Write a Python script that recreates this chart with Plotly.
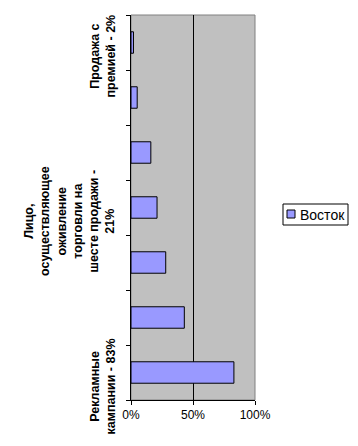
import plotly.graph_objects as go

categories = [
    "Рекламные кампании - 83%",
    "Категория 2",
    "Категория 3",
    "Лицо, осуществляющее оживление торговли на шесте продажи - 21%",
    "Категория 5",
    "Категория 6",
    "Продажа с премией - 2%",
]
label_lines = {
    "Рекламные кампании - 83%": ["Рекламные", "кампании - 83%"],
    "Лицо, осуществляющее оживление торговли на шесте продажи - 21%":
        ["Лицо,", "осуществляющее", "оживление", "торговли на", "шесте продажи -", "21%"],
    "Продажа с премией - 2%": ["Продажа с", "премией - 2%"],
}
values = [0.83, 0.43, 0.28, 0.21, 0.16, 0.05, 0.02]
series_name = "Восток"
x_tickvals = [0, 0.5, 1]

W, H = 358, 446
L, R, T, B = 131, 103, 15, 46
pw, ph = W - L - R, H - T - B

def px_x(p):
    return (p - L) / pw

def px_y(p):
    return (H - B - p) / ph

fig = go.Figure()
fig.add_trace(go.Bar(
    y=categories, x=values, orientation="h", name=series_name,
    marker=dict(color="#9999FF", line=dict(color="#000000", width=1)),
    showlegend=False,
))

fig.update_layout(
    width=W, height=H,
    margin=dict(l=L, r=R, t=T, b=B, autoexpand=False),
    paper_bgcolor="white",
    plot_bgcolor="#C0C0C0",
    bargap=0.61,
    font=dict(family="Liberation Sans, Arial", size=12, color="black"),
    showlegend=False,
    xaxis=dict(
        range=[0, 1], tickvals=x_tickvals, tickformat=".0%",
        showgrid=True, gridcolor="black", gridwidth=1,
        showline=True, linecolor="black", linewidth=1,
        ticks="outside", ticklen=4, tickcolor="black",
        zeroline=False, automargin=False,
        tickfont=dict(size=12),
    ),
    yaxis=dict(
        type="category", categoryorder="array", categoryarray=categories,
        range=[-0.5, len(categories) - 0.5], autorange=False,
        tickson="boundaries", showticklabels=False,
        ticks="outside", ticklen=4, tickcolor="black",
        showline=True, linecolor="black", linewidth=1,
        showgrid=False, zeroline=False, automargin=False,
    ),
)

# plot border (top/right) in gray
fig.add_shape(type="rect", xref="paper", yref="paper", x0=0, y0=0, x1=1, y1=1,
              line=dict(color="#808080", width=1), fillcolor="rgba(0,0,0,0)", layer="below")

# category labels (rotated, Excel style)
for cat, lines in label_lines.items():
    fig.add_annotation(
        x=px_x(119), xref="paper", xanchor="right",
        y=cat, yref="y", yanchor="middle", yshift=-14,
        text="<br>".join("<b>" + s + "</b>" for s in lines),
        textangle=-90, align="center", showarrow=False,
        font=dict(size=12.5, family="Liberation Sans, Arial", color="black"),
    )

# legend box
fig.add_shape(type="rect", xref="paper", yref="paper",
              x0=px_x(283), x1=px_x(348), y0=px_y(225), y1=px_y(204),
              line=dict(color="black", width=1), fillcolor="white")
fig.add_shape(type="rect", xref="paper", yref="paper",
              x0=px_x(287), x1=px_x(295), y0=px_y(218), y1=px_y(210),
              line=dict(color="black", width=1), fillcolor="#9999FF")
fig.add_annotation(
    x=px_x(298), xref="paper", xanchor="left",
    y=px_y(214.5), yref="paper", yanchor="middle",
    text=series_name, showarrow=False,
    font=dict(size=14, family="Liberation Sans, Arial", color="black"),
)

fig.write_html("out.html", config={"displayModeBar": False},
               post_script="document.body.style.margin='0';document.body.style.padding='0';")
